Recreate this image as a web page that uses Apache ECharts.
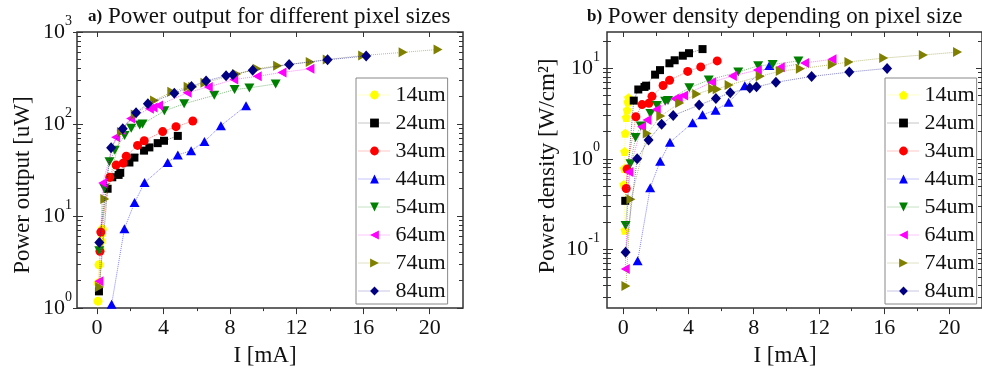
<!DOCTYPE html>
<html><head><meta charset="utf-8">
<script src="https://cdn.jsdelivr.net/npm/echarts@6/dist/echarts.min.js"></script>
<style>html,body{margin:0;padding:0;background:#fff}#c{width:982px;height:372px}</style>
</head><body><div id="c"></div>
<script>
// ---------- data ----------
const seriesNames = ['14um','24um','34um','44um','54um','64um','74um','84um'];

const current14 = [0.10, 0.03, 0.06, 0.08, 0.12, 0.18, 0.24, 0.28, 0.32];
const power14   = [0.25, 0.80, 1.19, 1.87, 2.95, 4.4, 5.3, 6.5, 7.2];
const density14 = [0.163, 0.52, 0.78, 1.2, 1.91, 2.85, 3.45, 4.22, 4.71];

const current24 = [0.12, 0.64, 0.92, 1.3, 1.4, 1.95, 2.25, 2.83, 3.15, 3.65, 4.03, 4.86];
const power24   = [1.52, 19.8, 26.4, 28, 29.5, 38.2, 43.2, 51.4, 55.7, 62, 65.8, 74.3];
const density24 = [0.344, 4.38, 5.81, 6.2, 6.4, 8.47, 9.5, 11.3, 12.2, 13.7, 14.6, 16.2];

const current34 = [0.18, 0.23, 0.77, 1.15, 1.57, 1.76, 2.44, 2.84, 3.95, 4.75, 5.76];
const power34   = [4.15, 6.7, 26.4, 35.8, 37.6, 44.7, 58.6, 65.8, 82.8, 93.6, 107.8];
const density34 = [0.47, 0.77, 2.91, 3.96, 4.1, 4.88, 6.43, 7.34, 9.2, 10.3, 12.0];

const current44 = [0.88, 1.65, 2.26, 2.86, 4.25, 4.86, 5.66, 6.46, 7.45, 8.96];
const power44   = [1.1, 7.3, 14.0, 23.1, 38.2, 46.2, 51.4, 64.6, 96, 158];
const density44 = [0.075, 0.48, 0.94, 1.52, 2.5, 3.06, 3.44, 4.2, 6.37, 10.7];

const current54 = [0.14, 0.44, 0.75, 1.07, 1.66, 2.06, 2.57, 2.74, 4.05, 5.24, 7.05, 8.27, 9.16, 10.74];
const power54   = [4.2, 20.1, 38.8, 51.8, 75, 89.9, 97.6, 100, 139, 166, 205, 237, 247, 273];
const density54 = [0.184, 0.88, 1.72, 2.3, 3.16, 3.86, 4.3, 4.4, 6.06, 7.4, 9.05, 10.6, 10.96, 12.0];

const current64 = [0.12, 0.34, 1.12, 1.45, 2.02, 3.15, 3.37, 3.7, 5.42, 6.69, 8.22, 9.63, 11.12, 12.8];
const power64   = [1.96, 22.8, 72, 86, 115, 147, 151, 159, 219, 253, 304, 330, 364, 398];
const density64 = [0.061, 0.716, 2.25, 2.68, 3.49, 4.6, 4.68, 5.0, 6.98, 8.19, 9.5, 10.2, 11.4, 12.5];

const current74 = [0.16, 0.47, 1.47, 2.3, 3.46, 4.5, 5.48, 5.76, 6.49, 8.4, 9.63, 10.86, 12.82, 13.84, 15.97, 18.4, 20.5];
const power74   = [1.7, 15.3, 81.7, 127, 180, 224, 254, 252, 281, 349, 399, 430, 473, 503, 555, 601, 646];
const density74 = [0.0396, 0.358, 1.9, 2.96, 4.13, 5.17, 5.91, 5.86, 6.53, 8.12, 9.27, 9.84, 10.96, 11.7, 12.9, 13.96, 15.0];

const current84 = [0.14, 0.85, 1.55, 2.35, 3.06, 4.65, 5.68, 6.56, 7.76, 8.17, 9.36, 11.55, 13.86, 16.18];
const power84   = [5.15, 55.4, 89, 133, 166, 216, 256, 294, 335, 343, 384, 444, 499, 549];
const density84 = [0.093, 1.0, 1.61, 2.4, 3.0, 3.91, 4.63, 5.34, 6.05, 6.21, 6.97, 8.09, 9.04, 9.92];

const xTickValues   = [0, 4, 8, 12, 16, 20];
const xMinorValues  = [2, 6, 10, 14, 18];
const powerTicks    = [1, 10, 100, 1000];
const powerMinor    = [2,3,4,5,6,7,8,9,20,30,40,50,60,70,80,90,200,300,400,500,600,700,800,900];
const densityTicks  = [0.1, 1, 10];
const densityMinor  = [0.03,0.04,0.05,0.06,0.07,0.08,0.09,0.2,0.3,0.4,0.5,0.6,0.7,0.8,0.9,2,3,4,5,6,7,8,9,20];

// ---------- styles ----------
const FONT = 'Liberation Serif';
const AX = '#333';
const colors = ['#FFFF00','#000000','#FF0000','#0000FF','#008000','#FF00FF','#808000','#000080'];
const pentagon = 'path://M5,0 L10,3.8 L8.1,10 L1.9,10 L0,3.8 Z';
const symLeft  = ['circle','rect','circle','triangle','path://M0,0 L10,0 L5,9 Z','path://M9,0 L9,10 L0,5 Z','path://M0,0 L0,10 L9,5 Z','diamond'];
const symRight = [pentagon].concat(symLeft.slice(1));
const symSize  = [9, 8, 9, [10,9], [10,9], [9,10], [9,10], [10,11]];

const currents  = [current14,current24,current34,current44,current54,current64,current74,current84];
const powers    = [power14,power24,power34,power44,power54,power64,power74,power84];
const densities = [density14,density24,density34,density44,density54,density64,density74,density84];

function pairs(xs, ys){ return xs.map((x,i)=>[x, ys[i]]); }
function supLabel(v){ const e = Math.round(Math.log10(v)); return '{b|10}{s|' + e + '}'; }
const supRich = {
  b: {fontFamily: FONT, fontSize: 22, color: '#111'},
  s: {fontFamily: FONT, fontSize: 14, color: '#111', padding: [0,0,22,0]}
};

function baseAxis(extra){
  return Object.assign({
    axisLine: {show: false, onZero: false},
    splitLine: {show: false},
    axisLabel: {show: false},
    axisTick: {show: false}
  }, extra);
}
function tickAxis(grid, pos, type, min, max, values, inside, len){
  return baseAxis({
    gridIndex: grid, position: pos, type: type, min: min, max: max,
    axisTick: {show: true, customValues: values, inside: inside, length: len, lineStyle: {color: AX, width: 1}}
  });
}

const xAxes = [
  // grid 0
  baseAxis({gridIndex:0, position:'bottom', type:'value', min:-1.2, max:22,
    axisLabel:{show:true, customValues:xTickValues, fontFamily:FONT, fontSize:22, color:'#111', margin:9},
    axisTick:{show:true, customValues:xTickValues, inside:false, length:6, lineStyle:{color:AX}},
    name:'I [mA]', nameLocation:'middle', nameGap:35,
    nameTextStyle:{fontFamily:FONT, fontSize:23, color:'#111', padding:[0,10,0,0]}}),
  tickAxis(0,'bottom','value',-1.2,22,xMinorValues,false,3),
  tickAxis(0,'top','value',-1.2,22,xTickValues,true,5),
  // grid 1
  baseAxis({gridIndex:1, position:'bottom', type:'value', min:-1, max:22,
    axisLabel:{show:true, customValues:xTickValues, fontFamily:FONT, fontSize:22, color:'#111', margin:9},
    axisTick:{show:true, customValues:xTickValues, inside:false, length:6, lineStyle:{color:AX}},
    name:'I [mA]', nameLocation:'middle', nameGap:35,
    nameTextStyle:{fontFamily:FONT, fontSize:23, color:'#111', padding:[0,19,0,0]}}),
  tickAxis(1,'bottom','value',-1,22,xMinorValues,false,3),
  tickAxis(1,'top','value',-1,22,xTickValues,true,5),
  tickAxis(1,'top','value',-1,22,xMinorValues,true,4)
];

const yAxes = [
  // grid 0
  baseAxis({gridIndex:0, position:'left', type:'log', logBase:10, min:1, max:1000,
    axisLabel:{show:true, customValues:powerTicks, formatter:supLabel, rich:supRich, margin:5},
    axisTick:{show:true, customValues:powerTicks, inside:true, length:6, lineStyle:{color:AX}},
    name:'Power output [uW]', nameLocation:'middle', nameGap:43,
    nameTextStyle:{fontFamily:FONT, fontSize:23, color:'#111', padding:[0,30,0,0]}}),
  tickAxis(0,'left','log',1,1000,powerMinor,true,4),
  tickAxis(0,'left','log',1,1000,powerTicks,false,4),
  tickAxis(0,'right','log',1,1000,powerTicks,true,6),
  tickAxis(0,'right','log',1,1000,powerMinor,true,4),
  // grid 1
  baseAxis({gridIndex:1, position:'left', type:'log', logBase:10, min:0.0226, max:25,
    axisLabel:{show:true, customValues:densityTicks, formatter:supLabel, rich:supRich, margin:7},
    axisTick:{show:true, customValues:densityTicks, inside:true, length:6, lineStyle:{color:AX}},
    name:'Power density [W/cm²]', nameLocation:'middle', nameGap:48,
    nameTextStyle:{fontFamily:FONT, fontSize:23, color:'#111', padding:[0,0,0,8]}}),
  tickAxis(1,'left','log',0.0226,25,densityMinor,true,4),
  tickAxis(1,'left','log',0.0226,25,densityTicks.concat(densityMinor),false,4),
  tickAxis(1,'right','log',0.0226,25,densityTicks,true,6),
  tickAxis(1,'right','log',0.0226,25,densityMinor,true,4)
];

const series = [];
seriesNames.forEach((n, i) => {
  const common = {
    type: 'line', color: colors[i], symbolSize: symSize[i], clip: true,
    lineStyle: {type: 'dotted', width: 1, opacity: 0.5},
    itemStyle: {color: colors[i]},
    emphasis: {disabled: true}, animation: false, z: 2 + i
  };
  series.push(Object.assign({}, common, {name: n, xAxisIndex: 0, yAxisIndex: 0,
    symbol: symLeft[i], data: pairs(currents[i], powers[i])}));
  series.push(Object.assign({}, common, {name: n + '#b', xAxisIndex: 3, yAxisIndex: 5,
    symbol: symRight[i], data: pairs(currents[i], densities[i])}));
});

const legendCommon = {
  orient: 'vertical', top: 78, itemWidth: 32, itemHeight: 11, itemGap: 6,
  padding: [6, 2, 2, 2], borderColor: '#888', borderWidth: 1, backgroundColor: '#fff',
  textStyle: {fontFamily: FONT, fontSize: 22, lineHeight: 22, color: '#111'},
  lineStyle: {opacity: 0.45, width: 1, type: 'dotted'},
  selectedMode: false
};

const titleRich = {b: {fontFamily: FONT, fontSize: 17, fontWeight: 'bold', color: '#111'}};
const option = {
  animation: false,
  backgroundColor: '#fff',
  title: [
    {text: '{b|a)} Power output for different pixel sizes', left: 83, top: 0,
     textStyle: {fontFamily: FONT, fontSize: 23, fontWeight: 'normal', color: '#111', rich: titleRich}},
    {text: '{b|b)} Power density depending on pixel size', left: 582, top: 0,
     textStyle: {fontFamily: FONT, fontSize: 23, fontWeight: 'normal', color: '#111', rich: titleRich}}
  ],
  grid: [
    {left: 77, top: 32, width: 386, height: 280, show: true, borderColor: AX, borderWidth: 1.5, backgroundColor: 'transparent'},
    {left: 607, top: 32, width: 381, height: 280, show: true, borderColor: AX, borderWidth: 1.5, backgroundColor: 'transparent'}
  ],
  legend: [
    Object.assign({}, legendCommon, {left: 356, data: seriesNames.slice()}),
    Object.assign({}, legendCommon, {left: 885, data: seriesNames.map(n => n + '#b'),
      formatter: s => s.split('#')[0]})
  ],
  xAxis: xAxes,
  yAxis: yAxes,
  series: series
};

const chart = echarts.init(document.getElementById('c'), null, {renderer: 'canvas'});
chart.setOption(option);
</script>
</body></html>
